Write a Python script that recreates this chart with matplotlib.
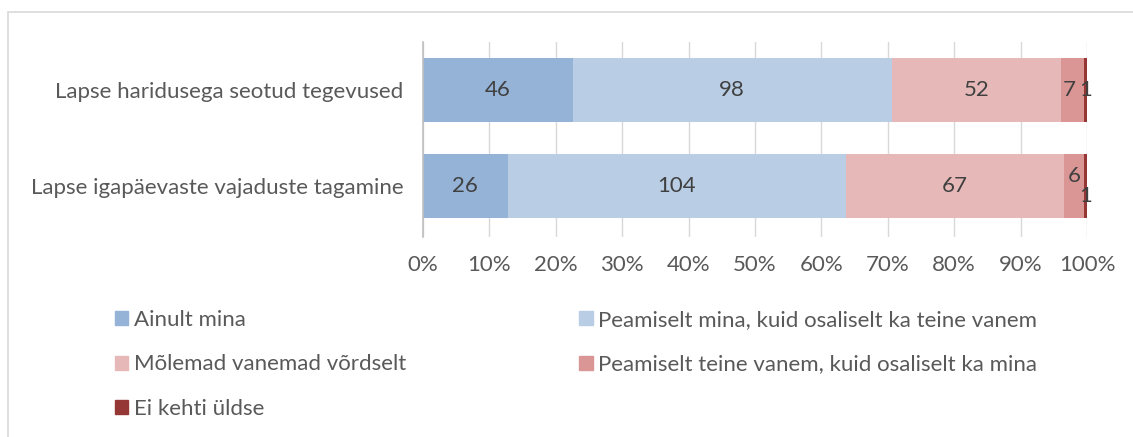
import numpy as np
import matplotlib
matplotlib.use("Agg")
import matplotlib.pyplot as plt
from matplotlib.patches import Rectangle, Patch

# data
categories = ["Lapse igapäevaste vajaduste tagamine", "Lapse haridusega seotud tegevused"]
series_names = ["Ainult mina",
                "Peamiselt mina, kuid osaliselt ka teine vanem",
                "Mõlemad vanemad võrdselt",
                "Peamiselt teine vanem, kuid osaliselt ka mina",
                "Ei kehti üldse"]
ainult_mina = [26, 46]
peamiselt_mina = [104, 98]
molemad = [67, 52]
peamiselt_teine = [6, 7]
ei_kehti = [1, 1]
tick_labels = ["0%", "10%", "20%", "30%", "40%", "50%", "60%", "70%", "80%", "90%", "100%"]

colors = ["#95B3D7", "#B9CDE5", "#E6B9B8", "#D99694", "#953735"]

plt.rcParams['font.family'] = ['Lato', 'DejaVu Sans']
FS = 16

fig = plt.figure(figsize=(11.33, 4.37), dpi=100)
ax = fig.add_axes([423/1133, 1 - 237/437, (1087 - 423)/1133, 195/437])

# light outer frame
fig.patches.append(Rectangle((8/1133, -0.1), 1.2, 1 - 12/437 + 0.1,
                             transform=fig.transFigure, fill=False,
                             edgecolor="#D9D9D9", linewidth=1.2))

data = np.array([ainult_mina, peamiselt_mina, molemad, peamiselt_teine, ei_kehti], dtype=float)
totals = data.sum(axis=0)
shares = data / totals
y = np.arange(len(categories))
left = np.zeros(len(categories))
for i, name in enumerate(series_names):
    ax.barh(y, shares[i], left=left, height=0.667, color=colors[i], label=name, zorder=2)
    for j in range(len(categories)):
        cx = left[j] + shares[i][j] / 2
        cy = y[j]
        # Excel nudges the crowded small labels on the lower bar
        if j == 0 and i == 3:
            cy += 0.1
        if j == 0 and i == 4:
            cy -= 0.1
        if j == 1 and i == 3:
            cx -= 0.004
        ax.text(cx, cy, str(int(data[i][j])), ha="center", va="center",
                fontsize=FS, color="#404040", zorder=3)
    left += shares[i]

ax.set_xlim(0, 1)
ax.set_ylim(-0.53, 1.5)
ax.set_xticks(np.linspace(0, 1, 11))
ax.set_xticklabels(tick_labels, fontsize=FS, color="#595959")
ax.set_yticks(y)
ax.set_yticklabels(categories, fontsize=FS, color="#595959")
ax.tick_params(length=0, pad=14)
ax.tick_params(axis="x", pad=13)
ax.grid(axis="x", color="#D9D9D9", linewidth=1, zorder=0)
for s in ["top", "right", "bottom"]:
    ax.spines[s].set_visible(False)
ax.spines["left"].set_color("#BFBFBF")
ax.spines["left"].set_linewidth(1.2)

# legend, rows filled left to right like Excel
order = [0, 2, 4, 1, 3]
handles = [Patch(color=colors[k]) for k in order]
labels = [series_names[k] for k in order]
fig.legend(handles, labels, ncol=2, loc="upper left",
           bbox_to_anchor=(95/1133, 1 - 290/437), frameon=False,
           fontsize=FS, labelcolor="#595959", handlelength=0.6, handleheight=0.6,
           handletextpad=0.25, columnspacing=7.8, labelspacing=1.1)

fig.savefig("out.png", dpi=100)
